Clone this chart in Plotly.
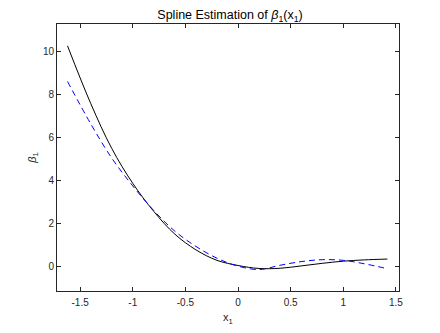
""" Spline estimate of beta_1(x_1) against the true curve """

import plotly.graph_objects as go

# values
x1 = [-1.62, -1.4, -1.2, -1.0, -0.8, -0.6, -0.4, -0.2, 0.0,
      0.2, 0.4, 0.6, 0.8, 1.0, 1.2, 1.42]
beta_true = [10.28, 7.6, 5.5, 3.87, 2.56, 1.5, 0.77, 0.28, 0.04,
             -0.1, -0.09, 0.02, 0.14, 0.24, 0.3, 0.34]
beta_spline = [8.62, 6.65, 5.05, 3.75, 2.6, 1.64, 0.93, 0.38, 0.01,
               -0.15, 0.05, 0.22, 0.31, 0.28, 0.12, -0.11]

x_ticks = [-1.5, -1, -0.5, 0, 0.5, 1, 1.5]
x_labels = ['-1.5', '-1', '-0.5', '0', '0.5', '1', '1.5']
y_ticks = [0, 2, 4, 6, 8, 10]

axcol = '#262626'
font = 'Liberation Sans, Arial, sans-serif'

true_line = go.Scatter(
    x=x1, y=beta_true, mode='lines', name='true',
    line=dict(color='black', width=1, shape='spline'))
spline_line = go.Scatter(
    x=x1, y=beta_spline, mode='lines', name='spline',
    line=dict(color='#0000ff', width=1, dash='6px,4px', shape='spline'))

axis = dict(showgrid=False, zeroline=False, showline=True, linecolor=axcol,
            linewidth=1, mirror='ticks', ticks='inside', ticklen=4,
            tickcolor=axcol, tickfont=dict(size=10, color=axcol, family=font))

# the page body adds an 8px margin, so the figure is 8px smaller than the window
layout = go.Layout(
    width=432, height=325,
    margin=dict(l=49, r=41, t=16, b=42),
    paper_bgcolor='white', plot_bgcolor='white',
    showlegend=False,
    font=dict(family=font, color=axcol),
    title=dict(text='Spline Estimation of <i>β</i><sub>1</sub>(x<sub>1</sub>)',
               x=0.514, xanchor='center', yref='container', y=0.993, yanchor='top',
               pad=dict(t=0, b=0),
               font=dict(size=12.5, color='black')),
    xaxis=dict(axis, range=[-1.72, 1.53], tickvals=x_ticks, ticktext=x_labels,
               ticklabelstandoff=2,
               title=dict(text='x<sub>1</sub>', standoff=6,
                          font=dict(size=11, color=axcol))),
    yaxis=dict(axis, range=[-1.15, 11.3], tickvals=y_ticks,
               title=dict(text='<i>β</i><sub>1</sub>', standoff=4,
                          font=dict(size=11, color=axcol))),
)

fig = go.Figure(data=[true_line, spline_line], layout=layout)
fig.write_html('out.html')
